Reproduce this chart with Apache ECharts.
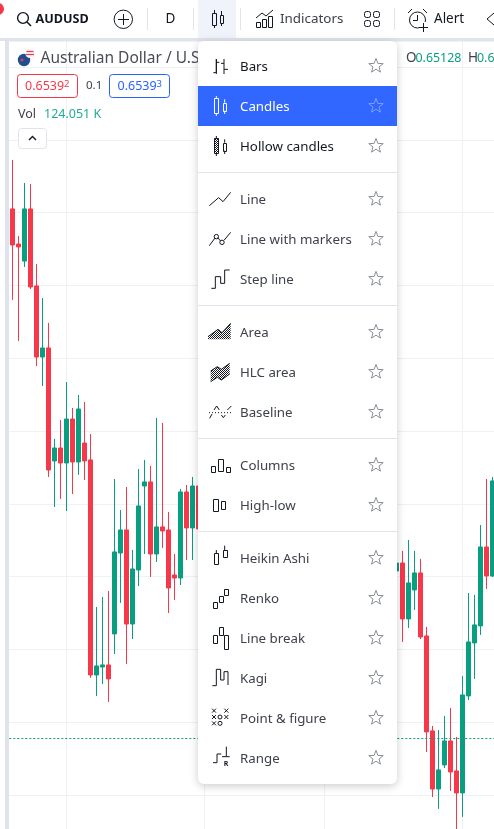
<!DOCTYPE html>
<html lang="en" style="height: 100%;">

<head>
    <meta charset="UTF-8">
    <title>AUDUSD</title>
    <script src="https://cdn.jsdelivr.net/npm/echarts@6/dist/echarts.min.js"></script>
</head>

<body style="height: 100%; margin: 0; background: #fff;">

    <div style="width: 494px;height: 829px;" id="chart"></div>

    <script>
        // bars behind the menu can't be read, they stay empty
        var gap = new Array(32).fill(null);

        var opens = [
            0.69026, 0.68785, 0.68668, 0.69026, 0.68497, 0.68009, 0.68071, 0.67295, 0.67384, 0.67281, 0.67583,
            0.67288, 0.67418, 0.67302, 0.65825, 0.65880, 0.65894, 0.66107, 0.66663, 0.66821, 0.66175, 0.66546,
            0.67123, 0.67151, 0.66656, 0.66842, 0.66821, 0.66512, 0.66491, 0.67082, 0.66835, 0.67123,
            ...gap,
            0.66539, 0.66594, 0.66210, 0.66409, 0.66526, 0.66093, 0.65441, 0.65042, 0.65207, 0.65372, 0.65166,
            0.65015, 0.65681, 0.66045, 0.66162, 0.66704, 0.66505
        ];
        var closes = [
            0.68778, 0.68765, 0.69026, 0.68490, 0.68009, 0.68071, 0.67233, 0.67384, 0.67281, 0.67583, 0.67288,
            0.67652, 0.67295, 0.65825, 0.65887, 0.65894, 0.65798, 0.66670, 0.66821, 0.66175, 0.66553, 0.66986,
            0.67151, 0.66656, 0.66842, 0.66814, 0.66423, 0.66491, 0.67082, 0.66835, 0.67123, 0.66828,
            ...gap,
            0.66594, 0.66210, 0.66457, 0.66526, 0.66086, 0.65434, 0.65042, 0.65173, 0.65372, 0.65159, 0.65015,
            0.65688, 0.66052, 0.66169, 0.66704, 0.66505, 0.67158
        ];
        var lows = [
            0.68401, 0.68119, 0.68627, 0.68476, 0.67947, 0.67810, 0.67185, 0.66979, 0.67034, 0.66951, 0.67068,
            0.67199, 0.67164, 0.65805, 0.65681, 0.65763, 0.65640, 0.65969, 0.66320, 0.65901, 0.66072, 0.66436,
            0.66656, 0.66498, 0.66601, 0.66697, 0.66251, 0.66340, 0.66443, 0.66615, 0.66615, 0.66787,
            ...gap,
            0.66512, 0.66052, 0.66148, 0.66272, 0.66072, 0.65296, 0.64987, 0.64905, 0.65186, 0.65028, 0.64767,
            0.64850, 0.65653, 0.65798, 0.66100, 0.66416, 0.66498
        ];
        var highs = [
            0.69362, 0.68840, 0.69204, 0.69197, 0.68648, 0.68414, 0.68243, 0.67446, 0.67576, 0.67837, 0.67659,
            0.67748, 0.67700, 0.67480, 0.66292, 0.66361, 0.66402, 0.67171, 0.66958, 0.67116, 0.66684, 0.67240,
            0.67302, 0.67261, 0.67590, 0.67556, 0.66945, 0.66656, 0.67103, 0.67130, 0.67185, 0.67130,
            ...gap,
            0.66615, 0.66677, 0.66752, 0.66677, 0.66622, 0.66155, 0.65475, 0.65447, 0.65544, 0.65598, 0.65399,
            0.65818, 0.66388, 0.66375, 0.66855, 0.67171, 0.67185
        ];
        var barNames = opens.map(function (v, i) { return 'bar' + i; });
        var monthStarts = [9, 32, 52, 75];
        var lastPrice = 0.6539;

        var menuGroups = [
            ['Bars', 'Candles', 'Hollow candles'],
            ['Line', 'Line with markers', 'Step line'],
            ['Area', 'HLC area', 'Baseline'],
            ['Columns', 'High-low'],
            ['Heikin Ashi', 'Renko', 'Line break', 'Kagi', 'Point & figure', 'Range']
        ];

        var RED = '#f7374a', GREEN = '#089e80', INK = '#131722', SOFT = '#3e414c', RULE = '#e0e3eb';
        var FONT = '"Noto Sans", sans-serif';
        var els = [];

        // checker fill for the hatched icons
        var hatchCanvas = document.createElement('canvas');
        hatchCanvas.width = hatchCanvas.height = 2;
        var hctx = hatchCanvas.getContext('2d');
        hctx.fillStyle = INK;
        hctx.fillRect(0, 0, 1, 1);
        hctx.fillRect(1, 1, 1, 1);
        var HATCH = { image: hatchCanvas, repeat: 'repeat' };

        function rect(x, y, w, h, style, r) {
            els.push({ type: 'rect', z: 100, silent: true, shape: { x: x, y: y, width: w, height: h, r: r || 0 }, style: style });
        }
        function box(x, y, w, h, color, fill) {
            rect(x + 0.5, y + 0.5, w, h, { fill: fill || 'none', stroke: color || INK, lineWidth: 1 });
        }
        function line(points, color, w, dash) {
            els.push({ type: 'polyline', z: 100, silent: true, shape: { points: points }, style: { fill: null, stroke: color || INK, lineWidth: w || 1, lineDash: dash } });
        }
        function circle(cx, cy, r, style) {
            els.push({ type: 'circle', z: 100, silent: true, shape: { cx: cx, cy: cy, r: r }, style: style });
        }
        function text(x, y, str, font, fill, align) {
            els.push({ type: 'text', z: 100, silent: true, style: { x: x, y: y, text: str, font: font + ' ' + FONT, fill: fill, textAlign: align || 'left', textVerticalAlign: 'middle' } });
        }
        function star(cx, cy, color) {
            var pts = [];
            for (var i = 0; i < 10; i++) {
                var r = i % 2 ? 3.2 : 7.6, a = -Math.PI / 2 + i * Math.PI / 5;
                pts.push([cx + r * Math.cos(a), cy + r * Math.sin(a)]);
            }
            els.push({ type: 'polygon', z: 100, silent: true, shape: { points: pts }, style: { fill: 'none', stroke: color, lineWidth: 1 } });
        }
        // icon coordinates were measured on 3x crops, so they're given in crop units
        function zp(list, oy) {
            return list.map(function (p) { return [198 + p[0] / 3, oy + p[1] / 3]; });
        }
        function zl(list, oy, color) { line(zp(list, oy), color); }
        function zb(x0, y0, x1, y1, oy, color, fill) {
            box(Math.round(198 + x0 / 3), Math.round(oy + y0 / 3), Math.round((x1 - x0) / 3), Math.round((y1 - y0) / 3), color, fill);
        }

        function drawFrame() {
            rect(0, 0, 494, 38, { fill: '#fff' });
            rect(0, 38, 494, 3.5, { fill: RULE });
            rect(0, 41, 5, 788, { fill: '#fff' });
            rect(5, 41, 4, 788, { fill: RULE });
            circle(-2, 9, 6, { fill: RED });
        }

        function drawToolbar() {
            circle(23, 18, 5.4, { fill: 'none', stroke: INK, lineWidth: 1.4 });
            line([[27, 22], [31, 26]], INK, 1.6);
            text(35.5, 19, 'AUDUSD', 'bold 12.6px', INK);

            circle(123.3, 19.3, 9.2, { fill: 'none', stroke: INK, lineWidth: 1 });
            line([[118, 19.5], [129, 19.5]]);
            line([[123.5, 14], [123.5, 25]]);

            [147.5, 193.5, 240.5, 394.5].forEach(function (x) {
                line([[x, 8], [x, 30]], RULE);
            });
            text(170.5, 19, 'D', '13.5px', INK, 'center');

            rect(198, 0, 38, 38, { fill: '#f0f3fa' });
            box(212, 13, 4, 12);
            line([[214.5, 10], [214.5, 13]]);
            line([[214.5, 25], [214.5, 28]]);
            box(220, 15, 3, 8);
            line([[221.5, 11], [221.5, 15]]);
            line([[221.5, 23], [221.5, 26]]);

            line([[256, 18], [262, 13], [266, 16], [273, 10]]);
            box(256, 22, 4, 5);
            box(262, 19, 4, 8);
            box(268, 16, 4, 11);
            text(280, 19, 'Indicators', '13.4px', SOFT);

            [[364, 11], [373, 11], [364, 20], [373, 20]].forEach(function (p) {
                rect(p[0] + 0.5, p[1] + 0.5, 6, 6, { fill: 'none', stroke: INK, lineWidth: 1 }, 2);
            });

            circle(417.5, 20, 8, { fill: 'none', stroke: INK, lineWidth: 1 });
            line([[417.5, 15], [417.5, 20.5], [413, 20.5]]);
            line([[408, 13], [412, 9]]);
            line([[423, 9], [427, 13]]);
            rect(419, 22, 9, 9, { fill: '#fff' });
            line([[419, 27.5], [428, 27.5]]);
            line([[423.5, 23], [423.5, 32]]);
            text(434, 19, 'Alert', '13.5px', INK);

            line([[494, 13], [487, 19], [494, 25]]);
        }

        function drawLegend() {
            circle(24, 60, 6.2, { fill: '#1f4f8f' });
            circle(22, 60, 1.6, { fill: '#d9414f' });
            circle(30, 53.5, 4.6, { fill: '#f2f3f5' });
            line([[26.5, 51.5], [33.5, 51.5]], RED, 1.2);
            line([[26, 54.5], [34, 54.5]], RED, 1.2);
            text(40.5, 58.5, 'Australian Dollar / U.S.  Dollar', '15.5px', '#4a4d57');

            rect(17.5, 74.5, 60, 23, { fill: '#fff', stroke: '#f23645', lineWidth: 1 }, 3);
            text(25, 86.5, '0.6539', '12.5px', RED);
            text(64, 84, '2', '9.5px', RED);
            text(86, 86, '0.1', '11.5px', SOFT);
            rect(109.5, 74.5, 60, 23, { fill: '#fff', stroke: '#2962ff', lineWidth: 1 }, 3);
            text(117.5, 86.5, '0.6539', '12.5px', '#2962ff');
            text(156.5, 84, '3', '9.5px', '#2962ff');

            text(18, 114.5, 'Vol', '12.5px', SOFT);
            text(44, 114.5, '124.051 K', '12.5px', '#22ab94');

            rect(18.5, 128.5, 28, 20, { fill: '#fff', stroke: RULE, lineWidth: 1 }, 3);
            line([[29, 140], [32.5, 136.5], [36, 140]], INK, 1.4);

            text(406, 58.5, 'O', '13.5px', SOFT);
            text(415.5, 58.5, '0.65128', '12.4px', GREEN);
            text(468, 58.5, 'H', '13.5px', SOFT);
            text(477, 58.5, '0.65', '12.4px', GREEN);
        }

        function drawMenu() {
            rect(198, 41, 199, 743, { fill: '#fff', shadowBlur: 9, shadowColor: 'rgba(19,23,34,0.22)', shadowOffsetY: 2 }, 6);
            rect(198, 86, 199, 40, { fill: '#3166ff' });

            var y = 66;
            menuGroups.forEach(function (group, g) {
                group.forEach(function (name, i) {
                    var active = name === 'Candles';
                    var fill = active ? '#fff' : (g === 0 ? INK : SOFT);
                    text(240, y + 1, name, '13.3px', fill);
                    star(376, y, active ? '#7da0ff' : '#8b8e98');
                    y += 40;
                });
                if (g < menuGroups.length - 1) {
                    line([[198, y - 40 + 26.5], [397, y - 40 + 26.5]], RULE);
                    y += 13;
                }
            });
            drawMenuIcons();
        }

        function drawMenuIcons() {
            // Bars
            zl([[46, 98], [55, 98], [55, 57], [55, 102]], 40);
            zl([[55, 67], [64, 67]], 40);
            zl([[78, 57], [78, 102]], 40);
            zl([[69, 70], [78, 70]], 40);
            zl([[78, 88], [90, 88]], 40);
            // Candles
            zb(49, 175, 60, 220, 40, '#fff');
            zl([[55, 168], [55, 175]], 40, '#fff');
            zl([[55, 220], [55, 228]], 40, '#fff');
            zb(75, 188, 85, 212, 40, '#fff');
            zl([[80, 178], [80, 188]], 40, '#fff');
            zl([[80, 212], [80, 222]], 40, '#fff');
            // Hollow candles
            zb(49, 295, 60, 340, 40, INK, HATCH);
            zl([[55, 288], [55, 295]], 40);
            zl([[55, 340], [55, 348]], 40);
            zb(75, 308, 85, 332, 40);
            zl([[80, 298], [80, 308]], 40);
            zl([[80, 332], [80, 342]], 40);
            // Line
            zl([[34, 497], [62, 473], [75, 485], [98, 457]], 40);
            // Line with markers
            zl([[34, 617], [51, 594]], 40);
            zl([[59, 593], [68, 603]], 40);
            zl([[78, 601], [98, 577]], 40);
            circle(198 + 55 / 3, 40 + 590 / 3, 2.2, { fill: 'none', stroke: INK, lineWidth: 1 });
            circle(198 + 72 / 3, 40 + 607 / 3, 2.2, { fill: 'none', stroke: INK, lineWidth: 1 });
            // Step line
            zl([[40, 745], [52, 745], [52, 710], [68, 710], [68, 730], [80, 730], [80, 690], [95, 690]], 40);
            // Area
            els.push({ type: 'polygon', z: 100, silent: true, shape: { points: zp([[30, 118], [30, 110], [60, 88], [72, 98], [98, 70], [98, 118]], 300) }, style: { fill: HATCH } });
            zl([[30, 110], [60, 88], [72, 98], [98, 70]], 300);
            // HLC area
            els.push({ type: 'polygon', z: 100, silent: true, shape: { points: zp([[38, 213], [58, 200], [70, 208], [95, 190], [95, 222], [70, 240], [58, 232], [38, 245]], 300) }, style: { fill: HATCH } });
            zl([[38, 213], [58, 200], [70, 208], [95, 190]], 300);
            zl([[38, 245], [58, 232], [70, 240], [95, 222]], 300);
            // Baseline
            line(zp([[33, 338], [100, 338]], 300), INK, 1, [1, 2]);
            zl([[35, 355], [42, 342]], 300);
            zl([[48, 330], [56, 318], [64, 330]], 300);
            zl([[70, 345], [76, 353], [82, 345]], 300);
            zl([[88, 330], [100, 318]], 300);
            // Columns
            zb(40, 497, 52, 515, 300);
            zb(60, 478, 75, 515, 300);
            zb(83, 500, 95, 515, 300);
            // High-low
            zb(46, 596, 60, 632, 300);
            zb(70, 603, 83, 628, 300);
            // Heikin Ashi
            zb(49, 70, 62, 103, 530);
            zl([[55, 60], [55, 70]], 530);
            zb(74, 60, 86, 80, 530);
            zl([[80, 47], [80, 60]], 530);
            // Renko
            zb(46, 217, 59, 235, 530);
            zb(62, 197, 75, 215, 530);
            zb(77, 177, 90, 195, 530);
            // Line break
            zb(46, 315, 59, 340, 530);
            zb(62, 290, 75, 315, 530);
            zb(77, 315, 90, 357, 530);
            // Kagi
            zl([[43, 467], [55, 467], [55, 418], [68, 418], [68, 450], [78, 450], [78, 425], [90, 425], [90, 465]], 530);
            // Point & figure
            [[48, 542], [85, 542], [48, 561], [85, 561], [48, 580]].forEach(function (p) {
                zl([[p[0] - 6, p[1] - 6], [p[0] + 6, p[1] + 6]], 530);
                zl([[p[0] - 6, p[1] + 6], [p[0] + 6, p[1] - 6]], 530);
            });
            [[66, 561], [66, 580]].forEach(function (p) {
                circle(198 + p[0] / 3, 530 + p[1] / 3, 2, { fill: 'none', stroke: INK, lineWidth: 1 });
            });
            // Range
            zl([[45, 698], [57, 698], [57, 672], [70, 672]], 530);
            zl([[72, 680], [85, 680], [85, 650]], 530);
            zl([[85, 680], [95, 680]], 530);
            text(198 + 84 / 3, 530 + 701 / 3, 'R', 'bold 7px', INK, 'center');
        }

        drawFrame();
        drawToolbar();
        drawLegend();
        drawMenu();

        var mapchart = echarts.init(document.getElementById('chart'));

        var option = {
            animation: false,
            graphic: { elements: els },
            // the price scale runs past the window on both sides
            grid: { left: 9.3, width: 486, top: -5.7, height: 873.6, outerBoundsMode: 'none' },
            xAxis: {
                type: 'category',
                data: barNames,
                axisLine: { show: false },
                axisTick: { show: false },
                axisLabel: { show: false },
                splitLine: {
                    show: true,
                    alignWithLabel: true,
                    interval: function (index) { return monthStarts.indexOf(index) >= 0; },
                    lineStyle: { color: '#f0f1f4', width: 1 }
                }
            },
            yAxis: {
                type: 'value',
                min: 0.645,
                max: 0.705,
                interval: 0.005,
                axisLine: { show: false },
                axisTick: { show: false },
                axisLabel: { show: false },
                splitLine: { lineStyle: { color: '#f0f1f4', width: 1 } }
            },
            series: [{
                type: 'candlestick',
                barWidth: 4,
                data: opens.map(function (o, i) {
                    return o === null ? '-' : [o, closes[i], lows[i], highs[i]];
                }),
                itemStyle: {
                    color: GREEN,
                    color0: RED,
                    borderColor: GREEN,
                    borderColor0: RED,
                    borderWidth: 1
                },
                markLine: {
                    silent: true,
                    symbol: 'none',
                    precision: 5,
                    label: { show: false },
                    lineStyle: { color: GREEN, type: [2, 2], width: 1, opacity: 1 },
                    data: [{ yAxis: lastPrice }]
                }
            }]
        };

        mapchart.setOption(option);
    </script>

</body>

</html>
